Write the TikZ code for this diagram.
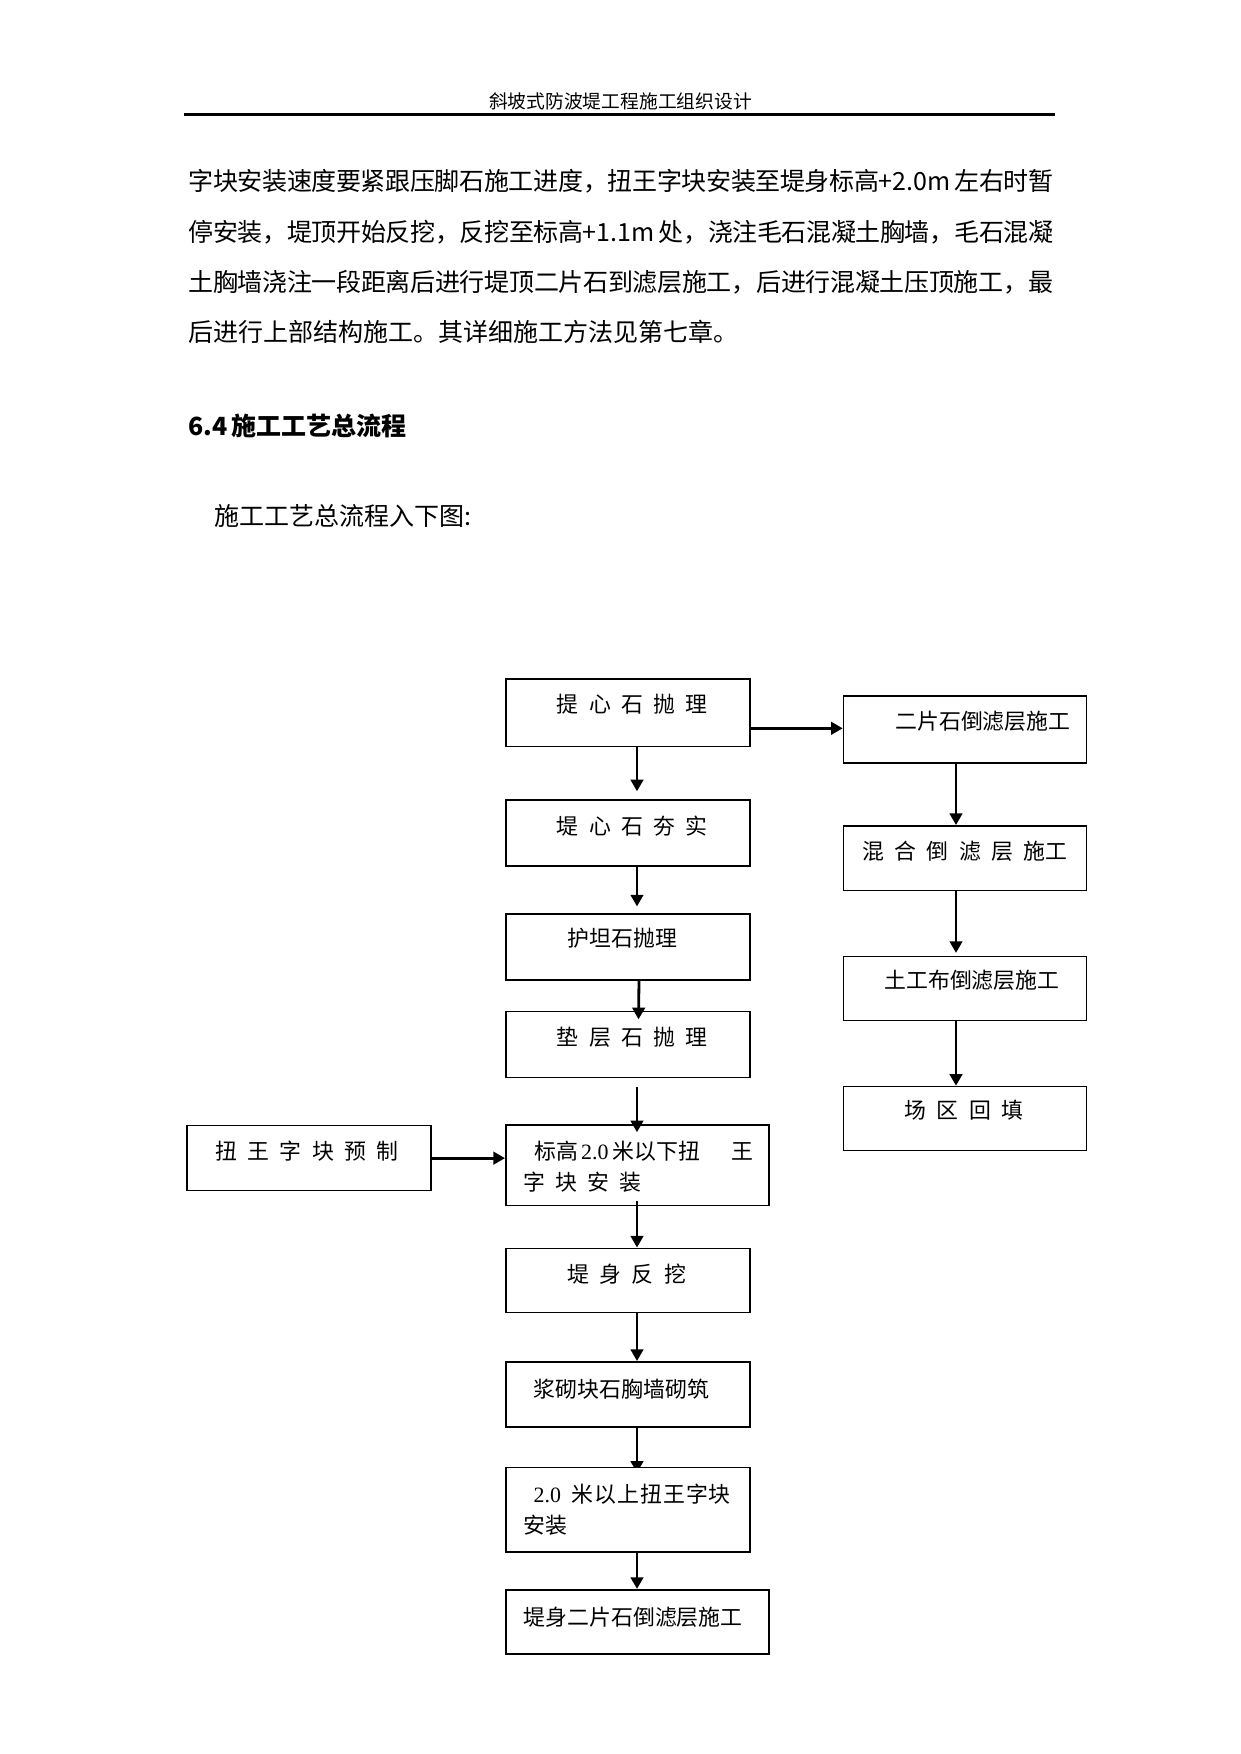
\documentclass[tikz,border=0pt]{standalone}
\usepackage{fontspec}
\setmainfont{Noto Sans CJK SC}
\newfontfamily\tnr{Liberation Serif}
\usetikzlibrary{arrows.meta,fit,calc}
\XeTeXlinebreaklocale "zh"
\XeTeXlinebreakskip=0pt plus 1pt minus 1pt
\newcommand\cgap{\hspace{4.96pt}}
\pgfdeclarelayer{bg}
\pgfsetlayers{bg,main}
\begin{document}
\begin{tikzpicture}[x=0.4797pt,y=-0.4797pt,
  box/.style={draw,line width=0.75pt,inner sep=0pt,fill=white},
  arr/.style={line width=1.35pt,-{Triangle[length=5.6pt,width=6pt]}},
  txt/.style={anchor=west,inner sep=0pt,font=\fontsize{10.5}{12}\selectfont},
  body/.style={anchor=west,inner sep=0pt,font=\fontsize{12}{14}\selectfont},
  bodyj/.style={body,text width=414.9pt}]
\begin{pgfonlayer}{bg}
\fill[white] (0,0) rectangle (1241,1754);
\end{pgfonlayer}
\useasboundingbox (0,0) rectangle (1241,1754);

% header
\node[anchor=center,inner sep=0pt,font=\fontsize{9}{10}\selectfont] (hdr) at (620.5,101) {斜坡式防波堤工程施工组织设计};
\coordinate (hl) at (183.5,114.5);
\coordinate (hr) at (1055,114.5);
\draw[line width=1.4pt] (hl) -- (hr);

% body text
\node[bodyj] (l1) at (188,181.5) {\parfillskip=0pt\relax 字块安装速度要紧跟压脚石施工进度，扭王字块安装至堤身标高+2.0m\hspace{0.15em}左右时暂};
\node[bodyj] (l2) at (188,232.5) {\parfillskip=0pt\relax 停安装，堤顶开始反挖，反挖至标高+1.1m\hspace{0.15em}处，浇注毛石混凝土胸墙，毛石混凝};
\node[bodyj] (l3) at (188,282) {\parfillskip=0pt\relax 土胸墙浇注一段距离后进行堤顶二片石到滤层施工，后进行混凝土压顶施工，最};
\node[body] (l4) at (188,332) {后进行上部结构施工。其详细施工方法见第七章。};
\node[body,font=\fontsize{12}{14}\selectfont\bfseries] (hd) at (188,426) {6.4\hspace{0.15em}施工工艺总流程};
\node[body] (intro) at (213.7,515.7) {施工工艺总流程入下图:};

% boxes
\node[box,fit={(505.8,679.2) (750,746.4)}] (b1) {};
\node[box,fit={(505.8,800.1) (750,866.1)}] (b2) {};
\node[box,fit={(505.8,914.2) (750,980.2)}] (b3) {};
\node[box,fit={(505.8,1011.6) (750,1077.5)}] (b4) {};
\node[box,fit={(505.8,1125) (768.8,1205.5)}] (b5) {};
\node[box,fit={(505.8,1248.3) (750,1312.6)}] (b6) {};
\node[box,fit={(505.8,1361.8) (750,1427)}] (b7) {};
\node[box,fit={(505.8,1467.5) (750,1552)}] (b8) {};
\node[box,fit={(505.8,1589.7) (768.8,1654)}] (b9) {};
\node[box,fit={(843.5,696) (1086.5,763)}] (r1) {};
\node[box,fit={(843.5,825.8) (1086.5,890.7)}] (r2) {};
\node[box,fit={(843.5,956.7) (1086.5,1020.5)}] (r3) {};
\node[box,fit={(843.5,1086.5) (1086.5,1150.3)}] (r4) {};
\node[box,fit={(186.9,1125.7) (430.8,1190.6)}] (lb) {};

% box texts
\node[txt] (t1) at (556.5,704.5) {提\cgap 心\cgap 石\cgap 抛\cgap 理};
\node[txt] (t2) at (556.5,825.8) {堤\cgap 心\cgap 石\cgap 夯\cgap 实};
\node[txt] (t3) at (567.5,938) {护坦石抛理};
\node[txt] (t4) at (556.5,1037) {垫\cgap 层\cgap 石\cgap 抛\cgap 理};
\node[txt] (t5a) at (533.7,1151) {标高\hspace{0.15em}{\tnr 2.0}\hspace{0.2em}米以下扭\hspace{1.43em}王};
\node[txt] (t5b) at (522.6,1182.5) {字\cgap 块\cgap 安\cgap 装};
\node[txt] (t6) at (567,1274) {堤\cgap 身\cgap 反\cgap 挖};
\node[txt] (t7) at (533.5,1389) {浆砌块石胸墙砌筑};
\node[txt] (t8a) at (533.3,1494) {{\tnr 2.0}\hspace{0.47em}米\hspace{0.5pt}以\hspace{0.5pt}上\hspace{0.5pt}扭\hspace{0.5pt}王\hspace{0.5pt}字\hspace{0.5pt}块};
\node[txt] (t8b) at (523.3,1525) {安装};
\node[txt] (t9) at (523.3,1617) {堤身二片石倒滤层施工};
\node[txt] (tr1) at (895,721) {二片石倒滤层施工};
\node[txt] (tr2) at (862,851) {混\cgap 合\cgap 倒\cgap 滤\cgap 层\cgap 施工};
\node[txt] (tr3) at (884,980.5) {土工布倒滤层施工};
\node[txt] (tr4) at (904.2,1110) {场\cgap 区\cgap 回\cgap 填};
\node[txt] (tl) at (215,1151) {扭\cgap 王\cgap 字\cgap 块\cgap 预\cgap 制};

% connectors
\coordinate (cx) at (637,0);
\coordinate (rx) at (956,0);
\coordinate (hy) at (0,728.3);
\draw[arr] (b1.south -| cx) -- ($(b2.north -| cx)+(0,-8)$);
\draw[arr] (b2.south -| cx) -- ($(b3.north -| cx)+(0,-7)$);
\draw[arr] ($(b3.south -| cx)+(2,0)$) -- ($(b4.north -| cx)+(1.5,8.5)$);
\draw[arr] ($(b4.south -| cx)+(0,8.5)$) -- ($(b5.north -| cx)+(0,8)$);
\draw[arr] ($(b5.south -| cx)+(0,-5.5)$) -- (b6.north -| cx);
\draw[arr] (b6.south -| cx) -- (b7.north -| cx);
\begin{pgfonlayer}{bg}
\draw[arr] (b7.south -| cx) -- ($(b8.north -| cx)+(0,6)$);
\end{pgfonlayer}
\draw[arr] (b8.south -| cx) -- (b9.north -| cx);
\draw[arr] (r1.south -| rx) -- (r2.north -| rx);
\draw[arr] (r2.south -| rx) -- ($(r3.north -| rx)+(0,-3)$);
\draw[arr] (r3.south -| rx) -- (r4.north -| rx);
\draw[arr] (b1.east |- hy) -- (r1.west |- hy);
\draw[arr] (lb.east) -- (b5.west |- lb.east);
\end{tikzpicture}
\end{document}
